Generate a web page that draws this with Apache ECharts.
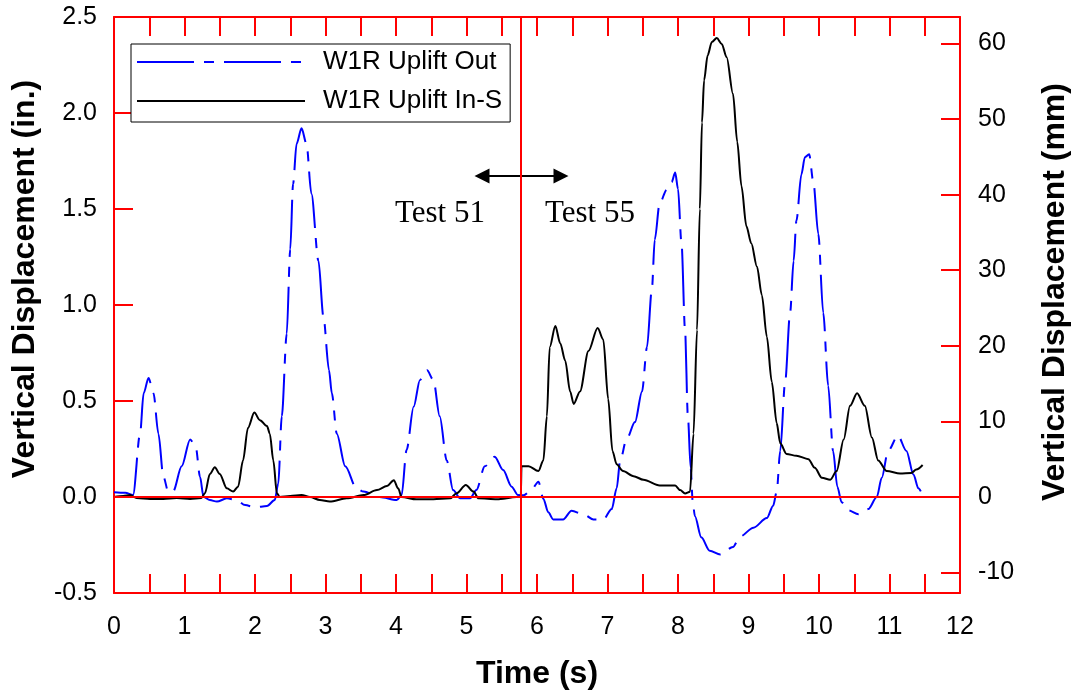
<!DOCTYPE html>
<html>
<head>
<meta charset="utf-8">
<script src="https://cdn.jsdelivr.net/npm/echarts@6.0.0/dist/echarts.min.js"></script>
<style>
  html, body { margin: 0; padding: 0; background: #fff; }
  #chart { width: 1074px; height: 692px; }
</style>
</head>
<body>
<div id="chart"></div>
<script>
// W1R Uplift Out (blue, dash-dot), time in s, displacement in inches
const outT = [0.00, 0.16, 0.27, 0.37, 0.42, 0.49, 0.56, 0.63, 0.70, 0.77, 0.84, 0.96, 1.08, 1.16, 1.22, 1.27,
  1.36, 1.46, 1.60, 1.74, 1.86, 2.00, 2.17, 2.28, 2.33, 2.38, 2.45, 2.50, 2.54, 2.59, 2.66, 2.73, 2.80, 2.90,
  2.97, 3.05, 3.09, 3.16, 3.28, 3.44, 3.54, 3.77, 4.01, 4.08, 4.15, 4.25, 4.34, 4.44, 4.53, 4.62, 4.72, 4.81,
  4.91, 5.05, 5.14, 5.26, 5.40, 5.52, 5.64, 5.73, 5.81, 5.92, 6.02, 6.09, 6.16, 6.23, 6.37, 6.49, 6.66, 6.80,
  6.94, 7.06, 7.13, 7.18, 7.27, 7.39, 7.49, 7.56, 7.63, 7.67, 7.74, 7.84, 7.91, 7.96, 8.00, 8.05, 8.10, 8.14,
  8.18, 8.21, 8.24, 8.33, 8.45, 8.60, 8.78, 8.88, 9.07, 9.26, 9.35, 9.40, 9.45, 9.52, 9.59, 9.64, 9.68, 9.75,
  9.80, 9.86, 9.92, 9.99, 10.06, 10.13, 10.20, 10.26, 10.32, 10.42, 10.56, 10.70, 10.82, 10.89, 10.98, 11.12,
  11.24, 11.34, 11.41, 11.46];
const outV = [0.025, 0.022, 0.01, 0.33, 0.54, 0.62, 0.54, 0.33, 0.106, 0.028, 0.03, 0.16, 0.30, 0.26, 0.106, 0.0,
  -0.016, -0.024, -0.007, -0.016, -0.042, -0.054, -0.047, -0.016, 0.07, 0.42, 0.85, 1.29, 1.63, 1.84, 1.92, 1.84, 1.58, 1.23,
  0.94, 0.66, 0.54, 0.33, 0.16, 0.045, 0.028, 0.0, -0.016, 0.01, 0.245, 0.47, 0.61, 0.66, 0.61, 0.42, 0.19, 0.036,
  -0.007, -0.007, 0.036, 0.16, 0.21, 0.14, 0.054, 0.01, 0.009, 0.036, 0.08, -0.009, -0.08, -0.117, -0.117, -0.072, -0.09, -0.117,
  -0.117, -0.063, 0.045, 0.19, 0.30, 0.39, 0.55, 0.78, 1.085, 1.34, 1.53, 1.60, 1.64, 1.69, 1.605, 1.32, 0.87, 0.42,
  0.15, -0.03, -0.1, -0.21, -0.28, -0.30, -0.26, -0.206, -0.16, -0.11, -0.045, 0.027, 0.24, 0.60, 0.96, 1.23, 1.44, 1.68,
  1.77, 1.785, 1.64, 1.37, 0.96, 0.58, 0.24, 0.054, -0.027, -0.07, -0.09, -0.063, 0.0, 0.1, 0.24, 0.32,
  0.24, 0.117, 0.045, 0.018];

// W1R Uplift In-S (black, solid)
const insT = [0.00, 0.13, 0.23, 0.32, 0.51, 0.70, 0.89, 1.08, 1.24, 1.29, 1.36, 1.43, 1.50, 1.60, 1.69, 1.76,
  1.83, 1.90, 1.99, 2.07, 2.17, 2.21, 2.26, 2.31, 2.35, 2.50, 2.66, 2.78, 2.92, 3.06, 3.30, 3.54, 3.73, 3.87,
  3.97, 4.03, 4.08, 4.29, 4.53, 4.77, 4.86, 4.99, 5.10, 5.17, 5.43, 5.71, 5.77, 5.78, 5.88, 6.02, 6.09, 6.14,
  6.18, 6.26, 6.33, 6.40, 6.47, 6.52, 6.61, 6.73, 6.86, 6.94, 7.01, 7.07, 7.13, 7.22, 7.37, 7.51, 7.74, 7.96,
  8.03, 8.10, 8.17, 8.22, 8.27, 8.31, 8.34, 8.37, 8.42, 8.48, 8.55, 8.62, 8.69, 8.78, 8.84, 8.90, 8.97, 9.04,
  9.12, 9.19, 9.26, 9.33, 9.40, 9.45, 9.54, 9.68, 9.85, 9.94, 10.04, 10.16, 10.25, 10.35, 10.44, 10.54, 10.65,
  10.75, 10.84, 10.96, 11.15, 11.31, 11.38, 11.47];
const insV = [0.0, 0.005, 0.01, -0.005, -0.01, -0.01, -0.005, -0.01, -0.005, 0.02, 0.12, 0.155, 0.12, 0.045, 0.028, 0.054,
  0.19, 0.36, 0.44, 0.40, 0.37, 0.33, 0.19, 0.02, 0.0, 0.005, 0.01, 0.0, -0.016, -0.024, -0.007, 0.01, 0.036, 0.057,
  0.087, 0.045, 0.0, -0.012, -0.012, -0.007, 0.02, 0.063, 0.028, -0.007, -0.012, 0.0, 0.0, 0.16, 0.16, 0.135, 0.19, 0.42,
  0.78, 0.89, 0.80, 0.71, 0.55, 0.485, 0.55, 0.76, 0.88, 0.82, 0.51, 0.24, 0.17, 0.135, 0.108, 0.09, 0.06, 0.06,
  0.036, 0.018, 0.027, 0.33, 0.87, 1.50, 1.95, 2.17, 2.30, 2.37, 2.39, 2.36, 2.29, 2.10, 1.85, 1.62, 1.41, 1.32,
  1.20, 1.05, 0.835, 0.60, 0.385, 0.28, 0.224, 0.215, 0.197, 0.152, 0.1, 0.09, 0.135, 0.30, 0.475, 0.54, 0.475,
  0.31, 0.19, 0.135, 0.122, 0.125, 0.143, 0.167];

const mmTicks = [-10, 0, 10, 20, 30, 40, 50, 60];
const dividerT = 5.77;          // boundary between Test 51 and Test 55
const arrowFrom = [5.22, 1.672];
const arrowTo = [6.34, 1.672];

const RED = '#ff0000';
const SANS = 'Liberation Sans, Arial, sans-serif';
const SERIF = 'Liberation Serif, Times New Roman, serif';

const zip = (xs, ys) => xs.map((x, i) => [x, ys[i]]);

const chart = echarts.init(document.getElementById('chart'));

const frameAxis = {
  axisLine: { show: true, onZero: false, lineStyle: { color: RED, width: 2 } },
  axisTick: { show: true, inside: true, length: 19, lineStyle: { color: RED, width: 2 } },
  splitLine: { show: false }
};

const titleStyle = { fontFamily: SANS, fontSize: 32, fontWeight: 'bold', fill: '#000', align: 'center', verticalAlign: 'middle' };

chart.setOption({
  animation: false,
  grid: { left: 114, right: 114, top: 17, bottom: 99, outerBoundsMode: 'none' },
  legend: {
    orient: 'vertical',
    left: 131,
    top: 44,
    padding: [5, 8, 8, 5],
    itemWidth: 168,
    itemHeight: 26,
    itemGap: 13,
    backgroundColor: '#fff',
    borderColor: '#000',
    borderWidth: 1,
    borderRadius: 0,
    selectedMode: false,
    itemStyle: { opacity: 0 },
    textStyle: { fontFamily: SANS, fontSize: 26, color: '#000', padding: [0, 0, 0, 13] },
    data: ['W1R Uplift Out', 'W1R Uplift In-S']
  },
  xAxis: [
    Object.assign({}, frameAxis, {
      type: 'value', min: 0, max: 12, interval: 0.5,
      name: 'Time (s)', nameLocation: 'middle', nameGap: 65,
      nameTextStyle: { fontFamily: SANS, fontSize: 32, fontWeight: 'bold', color: '#000' },
      axisLabel: {
        margin: 22, fontFamily: SANS, fontSize: 25, color: '#000',
        formatter: v => (Number.isInteger(v) ? String(v) : '')
      }
    }),
    Object.assign({}, frameAxis, {
      type: 'value', min: 0, max: 12, interval: 0.5, position: 'top',
      axisLabel: { show: false }
    })
  ],
  yAxis: [
    Object.assign({}, frameAxis, {
      type: 'value', min: -0.5, max: 2.5, interval: 0.5,
      axisLabel: { margin: 17, fontFamily: SANS, fontSize: 25, color: '#000', formatter: v => v.toFixed(1) }
    }),
    Object.assign({}, frameAxis, {
      type: 'value', min: -0.5 * 25.4, max: 2.5 * 25.4, position: 'right',
      axisTick: { show: true, inside: true, length: 19, lineStyle: { color: RED, width: 2 }, customValues: mmTicks },
      axisLabel: { margin: 18, fontFamily: SANS, fontSize: 25, color: '#000', customValues: mmTicks }
    })
  ],
  graphic: [
    { type: 'text', x: 25, y: 279, rotation: Math.PI / 2, style: Object.assign({ text: 'Vertical Displacement (in.)' }, titleStyle) },
    { type: 'text', x: 1055, y: 292, rotation: Math.PI / 2, style: Object.assign({ text: 'Vertical Displacement (mm)' }, titleStyle) },
    { type: 'text', left: 395, top: 198, style: { text: 'Test 51', fontFamily: SERIF, fontSize: 31, fill: '#000' } },
    { type: 'text', left: 545, top: 198, style: { text: 'Test 55', fontFamily: SERIF, fontSize: 31, fill: '#000' } }
  ],
  series: [
    {
      name: 'W1R Uplift Out',
      type: 'line',
      data: zip(outT, outV),
      symbol: 'none',
      smooth: 0.3,
      smoothMonotone: 'x',
      lineStyle: { color: '#0000ff', width: 2, type: [57, 10, 10, 10] },
      itemStyle: { color: '#0000ff' },
      z: 3,
      markLine: {
        silent: true,
        symbol: ['triangle', 'triangle'],
        symbolSize: [15, 15],
        label: { show: false },
        lineStyle: { color: '#000', width: 2, type: 'solid' },
        itemStyle: { color: '#000' },
        data: [[{ coord: arrowFrom }, { coord: arrowTo }]]
      }
    },
    {
      name: 'W1R Uplift In-S',
      type: 'line',
      data: zip(insT, insV),
      symbol: 'none',
      smooth: 0.3,
      smoothMonotone: 'x',
      lineStyle: { color: '#000', width: 2, type: 'solid' },
      itemStyle: { color: '#000' },
      z: 4,
      markLine: {
        silent: true,
        symbol: 'none',
        label: { show: false },
        lineStyle: { color: RED, width: 2, type: 'solid' },
        data: [{ yAxis: 0 }, { xAxis: dividerT }]
      }
    }
  ]
});
</script>
</body>
</html>
